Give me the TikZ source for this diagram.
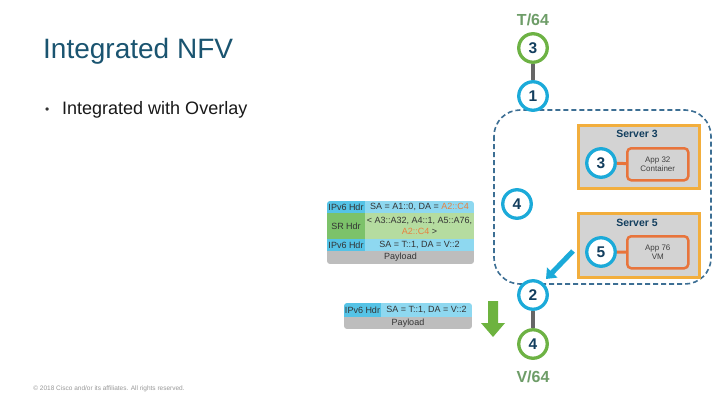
\documentclass[tikz,border=0pt]{standalone}
\usepackage{fontspec}
\setmainfont{Liberation Sans}
\usetikzlibrary{arrows.meta}
\definecolor{titleblue}{HTML}{1A5470}
\definecolor{cyanc}{HTML}{1BAAD9}
\definecolor{greenc}{HTML}{6DB244}
\definecolor{navy}{HTML}{123E5E}
\definecolor{labgreen}{HTML}{6E9D68}
\definecolor{dashblue}{HTML}{3D6F94}
\definecolor{srvorange}{HTML}{F2AE3D}
\definecolor{apporange}{HTML}{E8743B}
\definecolor{srvgray}{HTML}{D3D3D3}
\definecolor{linkgray}{HTML}{666666}
\definecolor{ipv6lab}{HTML}{55C3E6}
\definecolor{ipv6con}{HTML}{8ED8F0}
\definecolor{srlab}{HTML}{7CC26A}
\definecolor{srcon}{HTML}{B5DCA0}
\definecolor{paygray}{HTML}{BDBDBD}
\definecolor{addrorange}{HTML}{E8803F}
\definecolor{arrowgreen}{HTML}{6DB33F}
\tikzset{
  bubble/.style={circle, draw=cyanc, line width=3.3pt, minimum size=28.5pt, inner sep=0pt, fill=white, text=navy, font=\bfseries\fontsize{15.5}{15.5}\selectfont},
  gbubble/.style={bubble, draw=greenc},
  server/.style={draw=srvorange, fill=srvgray, line width=3pt, anchor=north west, inner sep=0pt},
  appbox/.style={draw=apporange, fill=srvgray, line width=2.5pt, rounded corners=4pt, anchor=north west, inner sep=0pt, minimum width=61pt, minimum height=32pt},
  srvlabel/.style={text=navy, font=\bfseries\fontsize{10.5}{11}\selectfont},
  apptext/.style={text=black!75, font=\fontsize{8}{9}\selectfont, align=center},
  cell/.style={anchor=north west, inner sep=0pt, outer sep=0pt, text=black!80, font=\fontsize{9}{10.5}\selectfont, align=center},
  bigtext/.style={text=labgreen, font=\bfseries\fontsize{16}{16}\selectfont},
  vlink/.style={draw=linkgray, line width=4pt},
}
\begin{document}
\begin{tikzpicture}[x=1pt,y=-1pt]
\useasboundingbox[fill=white] (0,0) rectangle (720,405);

% titles
\node[anchor=base west, inner sep=0pt, text=titleblue, font=\fontsize{28}{28}\selectfont] (title) at (43,58) {Integrated NFV};
\node[anchor=base west, inner sep=0pt, text=black!80, font=\fontsize{12}{12}\selectfont] (bul) at (45,113) {•};
\node[anchor=base west, inner sep=0pt, text=black!90, font=\fontsize{18}{18}\selectfont] (sub) at (62,114) {Integrated with Overlay};
\node[text=black!40, font=\fontsize{6.5}{6.5}\selectfont, inner sep=0pt] (copy) at (109,389) {© 2018 Cisco and/or its affiliates. All rights reserved.};

% dashed container
\draw[dashblue, line width=1.6pt, dash pattern=on 5pt off 3pt, rounded corners=26pt] (494,110) rectangle (711,284);

% servers
\node[server, minimum width=121pt, minimum height=63pt] (srv3) at (577,124) {};
\node[srvlabel] (srv3l) at (637,134) {Server 3};
\node[server, minimum width=121pt, minimum height=64pt] (srv5) at (577,212) {};
\node[srvlabel] (srv5l) at (637,223) {Server 5};
\node[appbox] (app32) at (626,147) {};
\node[apptext] (app32t) at (app32.center) {App 32\\Container};
\node[appbox] (app76) at (626,235) {};
\node[apptext] (app76t) at (app76.center) {App 76\\VM};
\node[bubble] (s3) at (601,163) {3};
\node[bubble] (s5) at (601,252) {5};
\draw[apporange, line width=3pt] (s3) -- (app32);
\draw[apporange, line width=3pt] (s5) -- (app76);
\node[bubble] (c4) at (517,204) {4};

% top chain
\node[bigtext] (t64) at (533,20) {T/64};
\node[gbubble] (g3) at (533,48) {3};
\node[bubble] (c1) at (533,96) {1};
\draw[vlink] (g3) -- (c1);

% bottom chain
\node[bubble] (c2) at (533,295) {2};
\node[gbubble] (g4) at (533,344) {4};
\node[bigtext] (v64) at (533,377) {V/64};
\draw[vlink] (c2) -- (g4);

% blue arrow
\coordinate (ba1) at (573,251);
\coordinate (ba2) at (546,279);
\draw[cyanc, line width=5pt, -{Triangle[length=9pt,width=14pt]}] (ba1) -- (ba2);

% packet 1
\begin{scope}
\clip[rounded corners=3pt] (327,201) rectangle (474,264);
\node[cell, fill=ipv6lab, minimum width=38pt, minimum height=12pt] (p1a) at (327,201) {IPv6 Hdr};
\node[cell, fill=ipv6con, minimum width=109pt, minimum height=12pt] (p1b) at (365,201) {SA = A1::0, DA = \textcolor{addrorange}{A2::C4}};
\node[cell, fill=srlab, minimum width=38pt, minimum height=26pt] (p1c) at (327,213) {SR Hdr};
\node[cell, fill=srcon, minimum width=109pt, minimum height=26pt] (p1d) at (365,213) {< A3::A32, A4::1, A5::A76,\\\textcolor{addrorange}{A2::C4} >};
\node[cell, fill=ipv6lab, minimum width=38pt, minimum height=12pt] (p1e) at (327,239) {IPv6 Hdr};
\node[cell, fill=ipv6con, minimum width=109pt, minimum height=12pt] (p1f) at (365,239) {SA = T::1, DA = V::2};
\node[cell, fill=paygray, minimum width=147pt, minimum height=13pt] (p1g) at (327,251) {Payload};
\end{scope}

% packet 2
\begin{scope}
\clip[rounded corners=3pt] (344,303) rectangle (472,329);
\node[cell, fill=ipv6lab, minimum width=37pt, minimum height=14pt] (p2a) at (344,303) {IPv6 Hdr};
\node[cell, fill=ipv6con, minimum width=91pt, minimum height=14pt] (p2b) at (381,303) {SA = T::1, DA = V::2};
\node[cell, fill=paygray, minimum width=128pt, minimum height=12pt] (p2c) at (344,317) {Payload};
\end{scope}

% green down arrow
\fill[arrowgreen] (488,301) -- (498,301) -- (498,323) -- (505,323) -- (493,337) -- (481,323) -- (488,323) -- cycle;
\end{tikzpicture}
\end{document}
